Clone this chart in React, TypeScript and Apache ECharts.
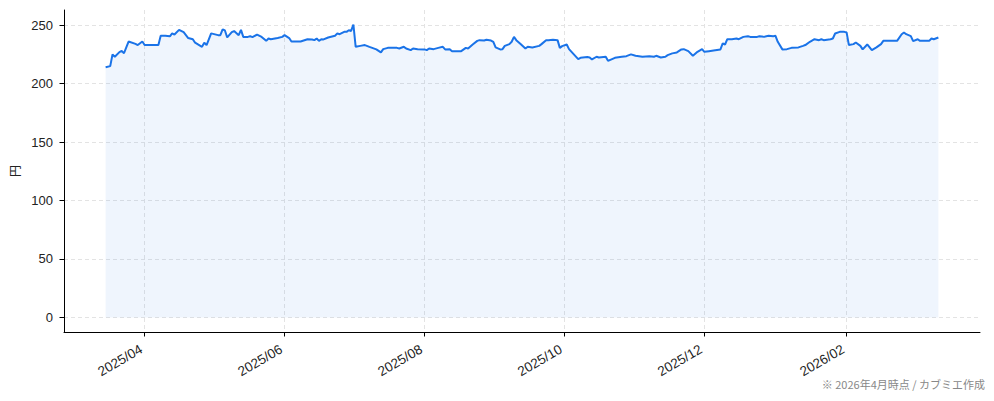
import { useEffect, useRef } from 'react'
import * as echarts from 'echarts'

// Daily closing price (円)
const dates = [
  '2025-03-15', '2025-03-17', '2025-03-18', '2025-03-19', '2025-03-21', '2025-03-22', '2025-03-23', '2025-03-24',
  '2025-03-25', '2025-03-28', '2025-03-29', '2025-03-31', '2025-04-01', '2025-04-07', '2025-04-08', '2025-04-10',
  '2025-04-12', '2025-04-13', '2025-04-14', '2025-04-16', '2025-04-18', '2025-04-20', '2025-04-22', '2025-04-23',
  '2025-04-26', '2025-04-27', '2025-04-28', '2025-04-30', '2025-05-03', '2025-05-04', '2025-05-05', '2025-05-06',
  '2025-05-07', '2025-05-09', '2025-05-10', '2025-05-12', '2025-05-13', '2025-05-14', '2025-05-16', '2025-05-17',
  '2025-05-18', '2025-05-20', '2025-05-22', '2025-05-24', '2025-05-25', '2025-05-26', '2025-05-29', '2025-05-31',
  '2025-06-01', '2025-06-03', '2025-06-04', '2025-06-08', '2025-06-11', '2025-06-13', '2025-06-14', '2025-06-15',
  '2025-06-16', '2025-06-17', '2025-06-18', '2025-06-20', '2025-06-23', '2025-06-24', '2025-06-25', '2025-06-27',
  '2025-06-28', '2025-06-29', '2025-06-30', '2025-07-01', '2025-07-02', '2025-07-04', '2025-07-06', '2025-07-08',
  '2025-07-11', '2025-07-13', '2025-07-14', '2025-07-16', '2025-07-20', '2025-07-21', '2025-07-23', '2025-07-24',
  '2025-07-26', '2025-07-27', '2025-07-29', '2025-08-01', '2025-08-02', '2025-08-03', '2025-08-05', '2025-08-07',
  '2025-08-09', '2025-08-10', '2025-08-12', '2025-08-13', '2025-08-17', '2025-08-19', '2025-08-20', '2025-08-22',
  '2025-08-24', '2025-08-25', '2025-08-27', '2025-08-28', '2025-08-30', '2025-08-31', '2025-09-01', '2025-09-03',
  '2025-09-04', '2025-09-05', '2025-09-07', '2025-09-08', '2025-09-09', '2025-09-10', '2025-09-12', '2025-09-14',
  '2025-09-15', '2025-09-17', '2025-09-20', '2025-09-21', '2025-09-23', '2025-09-24', '2025-09-26', '2025-09-28',
  '2025-09-29', '2025-09-30', '2025-10-02', '2025-10-03', '2025-10-07', '2025-10-08', '2025-10-11', '2025-10-12',
  '2025-10-13', '2025-10-15', '2025-10-16', '2025-10-19', '2025-10-20', '2025-10-23', '2025-10-26', '2025-10-28',
  '2025-10-30', '2025-11-01', '2025-11-04', '2025-11-07', '2025-11-09', '2025-11-10', '2025-11-12', '2025-11-14',
  '2025-11-15', '2025-11-17', '2025-11-19', '2025-11-21', '2025-11-22', '2025-11-24', '2025-11-26', '2025-11-28',
  '2025-11-30', '2025-12-01', '2025-12-03', '2025-12-05', '2025-12-08', '2025-12-09', '2025-12-10', '2025-12-11',
  '2025-12-13', '2025-12-15', '2025-12-16', '2025-12-18', '2025-12-20', '2025-12-21', '2025-12-24', '2025-12-25',
  '2025-12-27', '2025-12-28', '2025-12-29', '2025-12-31', '2026-01-01', '2026-01-02', '2026-01-04', '2026-01-06',
  '2026-01-08', '2026-01-11', '2026-01-13', '2026-01-14', '2026-01-16', '2026-01-18', '2026-01-20', '2026-01-21',
  '2026-01-22', '2026-01-25', '2026-01-26', '2026-01-27', '2026-01-29', '2026-01-31', '2026-02-01', '2026-02-02',
  '2026-02-04', '2026-02-05', '2026-02-07', '2026-02-08', '2026-02-10', '2026-02-12', '2026-02-14', '2026-02-16',
  '2026-02-17', '2026-02-20', '2026-02-23', '2026-02-25', '2026-02-26', '2026-02-27', '2026-03-01', '2026-03-02',
  '2026-03-04', '2026-03-05', '2026-03-09', '2026-03-10', '2026-03-11', '2026-03-13',
]

const prices = [
  214, 215, 225, 223, 227, 228, 226, 231,
  236, 234, 233, 236, 233, 233, 241, 241,
  240.5, 243, 242, 246, 244, 239, 238, 235,
  231.5, 235, 233, 243, 241.5, 241.5, 246.5, 245.5,
  239.5, 244, 245, 241.5, 246, 240, 240, 240.6,
  239.8, 242, 240, 236.6, 238.6, 238, 239, 240,
  241.5, 239, 236, 236, 238, 237.8, 237.2, 238.6,
  236.6, 238, 237.8, 239.5, 241, 243, 242.3, 244.3,
  244.3, 245.7, 245.1, 250.6, 231.5, 232.3, 233, 231.5,
  229.3, 226.7, 229.5, 230.6, 230.6, 230.1, 231.5, 230.1,
  228.7, 230.1, 229.5, 229.3, 228.7, 230.1, 229.5, 230.6,
  231.5, 229.3, 229.5, 227.8, 227.8, 230.6, 230.1, 233.5,
  236.6, 237.2, 236.9, 237.5, 236.9, 235.8, 231, 229.3,
  229.5, 232.3, 233.8, 235.8, 240, 237.2, 233.7, 230,
  231.5, 231, 232.3, 233.8, 237.2, 237.2, 237.5, 237.2,
  230.6, 232.1, 233.5, 229.5, 221, 222.1, 222.7, 222.4,
  220.7, 223, 222.4, 223, 219.5, 222.1, 223, 223.5,
  225, 223.8, 223, 223.5, 223, 223.8, 222.4, 223,
  224.4, 225.9, 226.7, 229.3, 229.5, 227.8, 223.8, 227.2,
  229.5, 227.2, 227.8, 228.4, 229.3, 234.4, 233.5, 238,
  238, 238.6, 238, 240, 240.6, 240, 240, 240.6,
  240, 240.6, 240.9, 240.6, 240.9, 235.8, 229.3, 229.5,
  230.6, 231, 232.3, 233, 235.8, 238, 237.2, 238,
  237.2, 238, 238.6, 242.9, 244.3, 244.3, 243.8, 233,
  233.8, 235.2, 232.3, 229.3, 233.5, 228.7, 231, 233.8,
  236.6, 236.6, 236.6, 242.3, 243.8, 242.3, 240.6, 236.3,
  238, 236.6, 236.6, 238.6, 238, 239.5,
]

const xTickLabels = ['2025/04', '2025/06', '2025/08', '2025/10', '2025/12', '2026/02']
const yTicks = [0, 50, 100, 150, 200, 250]

const FONT = '"Liberation Sans", "Noto Sans CJK JP", sans-serif'
const CJK_FONT = '"Noto Sans CJK JP", "Liberation Sans", sans-serif'
const LINE_COLOR = '#1a73e8'
const GRID_COLOR = '#e3e3e3'

const toTime = (s: string) => {
  const [y, m, d] = s.split('-').map(Number)
  return Date.UTC(y, m - 1, d)
}

const monthTime = (s: string) => {
  const [y, m] = s.split('/').map(Number)
  return Date.UTC(y, m - 1, 1)
}

const App: React.FC = () => {
  const chartRef = useRef<HTMLDivElement | null>(null)

  useEffect(() => {
    if (!chartRef.current) return
    const chart = echarts.init(chartRef.current, null, { renderer: 'svg' })

    // dates as UTC timestamps on a plain value axis (matplotlib-style 5% margins)
    const times = dates.map(toTime)
    const first = times[0]
    const last = times[times.length - 1]
    const pad = (last - first) * 0.05
    const xTicks = xTickLabels.map(monthTime)
    const labelByTime = new Map(xTicks.map((t, i) => [t, xTickLabels[i]]))

    const option: echarts.EChartsOption = {
      animation: false,
      textStyle: { fontFamily: FONT },
      grid: { left: 62, right: 14, top: 10, bottom: 69, containLabel: false },
      xAxis: {
        type: 'value',
        min: first - pad,
        max: last + pad,
        axisLine: { show: true, onZero: false, lineStyle: { color: '#000', width: 1 } },
        axisTick: { show: true, length: 4.5, customValues: xTicks, lineStyle: { color: '#000' } },
        axisLabel: {
          customValues: xTicks,
          rotate: 30,
          align: 'right',
          verticalAlign: 'bottom',
          margin: 22,
          color: '#222',
          fontSize: 13.5,
          fontFamily: FONT,
          formatter: (v: number) => labelByTime.get(v) ?? '',
        },
        splitLine: { show: true, lineStyle: { color: GRID_COLOR, type: [4, 3], width: 1 } },
      },
      yAxis: {
        type: 'value',
        min: -12.5,
        max: 263,
        name: '円',
        nameLocation: 'middle',
        nameGap: 44,
        nameRotate: 90,
        nameTextStyle: { color: '#222', fontSize: 12, fontFamily: CJK_FONT },
        axisLine: { show: true, onZero: false, lineStyle: { color: '#000', width: 1 } },
        axisTick: { show: true, length: 4.5, customValues: yTicks, lineStyle: { color: '#000' } },
        axisLabel: { customValues: yTicks, color: '#222', fontSize: 13, margin: 11, fontFamily: FONT },
        splitLine: { show: true, lineStyle: { color: GRID_COLOR, type: [4, 3], width: 1 } },
      },
      series: [
        {
          type: 'line',
          data: times.map((t, i) => [t, prices[i]]),
          showSymbol: false,
          lineStyle: { color: LINE_COLOR, width: 2 },
          itemStyle: { color: LINE_COLOR },
          areaStyle: { color: 'rgba(26, 115, 232, 0.1)', origin: 'auto' },
        },
      ],
      graphic: [
        {
          type: 'text',
          right: 9,
          top: 378,
          style: {
            text: '※ 2026年4月時点 / カブミエ作成',
            fill: '#888',
            fontSize: 11,
            fontFamily: CJK_FONT,
          },
        },
      ],
    }

    chart.setOption(option)

    return () => {
      chart.dispose()
    }
  }, [])

  return (
    <div
      ref={chartRef}
      style={{ position: 'fixed', left: 0, top: 0, width: 994, height: 401, background: '#fff' }}
    />
  )
}

export default App
